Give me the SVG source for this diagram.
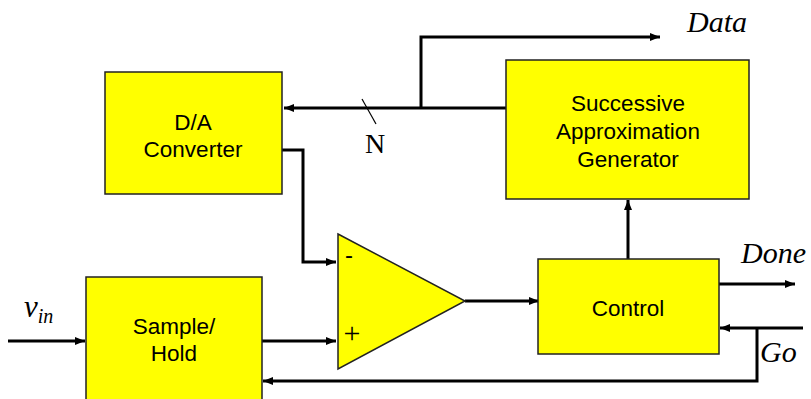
<svg xmlns="http://www.w3.org/2000/svg" width="811" height="399" viewBox="0 0 811 399">
<defs>
<marker id="ah" viewBox="0 0 10 8" refX="10" refY="4" markerWidth="10" markerHeight="8" markerUnits="userSpaceOnUse" orient="auto">
<path d="M0,0 L10,4 L0,8 Z" fill="#000"/>
</marker>
<style>
.box{fill:#ffff00;stroke:#222;stroke-width:1.5}
.lbl{font-family:"Liberation Sans",Arial,sans-serif;font-size:22.5px;text-anchor:middle;fill:#000}
.it{font-family:"Liberation Serif","Times New Roman",serif;font-style:italic;fill:#000}
.rm{font-family:"Liberation Serif","Times New Roman",serif;fill:#000}
.w{fill:none;stroke:#000;stroke-width:3}
</style>
</defs>
<g id="connectors">
<path class="w" d="M506,108 L284,108" marker-end="url(#ah)"/>
<path class="w" d="M421,108 L421,37 L660,37" marker-end="url(#ah)"/>
<path d="M362,99 L376,124" stroke="#000" stroke-width="1.2"/>
<path class="w" d="M282,150 L303,150 L303,262 L336,262" marker-end="url(#ah)"/>
<path class="w" d="M8,341 L85,341" marker-end="url(#ah)"/>
<path class="w" d="M262,341 L336,341" marker-end="url(#ah)"/>
<path class="w" d="M465,301 L539,301" marker-end="url(#ah)"/>
<path class="w" d="M628,259 L628,200" marker-end="url(#ah)"/>
<path class="w" d="M719,284 L795,284" marker-end="url(#ah)"/>
<path class="w" d="M803,328 L720,328" marker-end="url(#ah)"/>
<path class="w" d="M757,328 L757,381 L263,381" marker-end="url(#ah)"/>
</g>
<g id="da">
<rect class="box" x="105" y="72" width="177" height="122"/>
<text class="lbl" x="193" y="130">D/A</text>
<text class="lbl" x="193" y="157">Converter</text>
</g>
<g id="sag">
<rect class="box" x="506" y="60" width="243" height="139"/>
<text class="lbl" x="628" y="111">Successive</text>
<text class="lbl" x="628" y="139">Approximation</text>
<text class="lbl" x="628" y="167">Generator</text>
</g>
<g id="sh">
<rect class="box" x="86" y="277" width="176" height="125"/>
<text class="lbl" x="174" y="334">Sample/</text>
<text class="lbl" x="174" y="361">Hold</text>
</g>
<g id="comp">
<path class="box" d="M338,234 L465,301 L338,369 Z"/>
<text class="lbl" x="349" y="263" style="font-size:24px">-</text>
<text class="rm" x="352" y="343" font-size="30" text-anchor="middle">+</text>
</g>
<g id="control">
<rect class="box" x="538" y="259" width="181" height="95"/>
<text class="lbl" x="628" y="316">Control</text>
</g>
<g id="labels">
<text class="rm" x="375" y="153" font-size="28" text-anchor="middle">N</text>
<text class="it" x="687" y="32" font-size="30">Data</text>
<text class="it" x="741" y="263" font-size="30">Done</text>
<text class="it" x="760" y="362" font-size="30">Go</text>
<text class="it" x="24" y="317" font-size="31">v<tspan font-size="20" dy="6">in</tspan></text>
</g>
</svg>
